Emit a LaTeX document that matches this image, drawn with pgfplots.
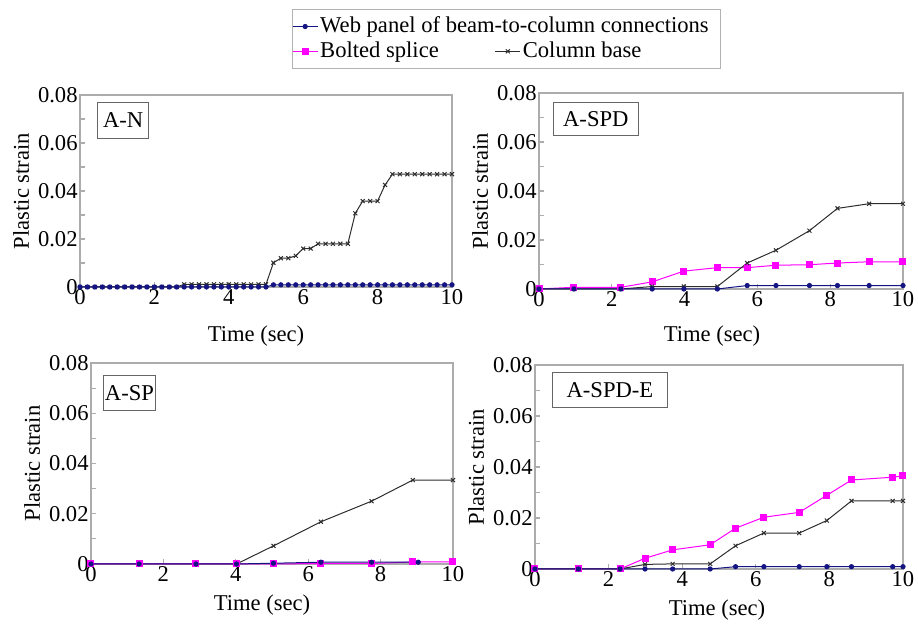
\documentclass[border=0pt]{standalone}
\usepackage{fontspec}
\setmainfont{Liberation Serif}
\usepackage{pgfplots}
\pgfplotsset{compat=1.18}
\definecolor{navyc}{RGB}{20,20,130}
\definecolor{magc}{RGB}{255,0,255}
\definecolor{colc}{RGB}{45,45,45}
\newcommand\cf{\fontsize{11.3pt}{13pt}\selectfont}
\tikzset{
 webs/.style={color=navyc, mark=*, mark size=1.05pt, line width=0.5pt},
 bolts/.style={color=magc, mark=square*, mark size=1.5pt, line width=0.5pt},
 cols/.style={color=colc, mark=x, mark size=1.4pt, line width=0.5pt},
 tag/.style={draw=black!60, line width=0.5pt, fill=white, font=\cf, anchor=north west, inner sep=0pt, align=center},
}
\pgfplotsset{
 panel/.style={scale only axis, xmin=0, xmax=10, ymin=0, ymax=0.08, clip=false,
   scaled ticks=false,
   axis line style={gray!65, line width=0.7pt},
   tick style={gray!65, line width=0.6pt}, major tick length=2.5pt, minor tick length=2.5pt,
   tick pos=left, tick align=inside,
   xtick={0,2,4,6,8,10}, xticklabels={0,2,4,6,8,10},
   ytick={0,0.02,0.04,0.06,0.08}, yticklabels={0,0.02,0.04,0.06,0.08},
   minor ytick={0.01,0.03,0.05,0.07},
   tick label style={font=\cf, black},
   yticklabel style={inner xsep=1pt},
   xticklabel style={inner ysep=1pt},
   label style={font=\cf},
   xlabel={Time (sec)}, ylabel={Plastic strain},
 },
}
\begin{document}
\begin{tikzpicture}
\useasboundingbox (0,0) rectangle (459pt,312pt);

% ---------------- A-N ----------------
\begin{axis}[panel, at={(40pt,168.5pt)}, anchor=south west, width=186pt, height=96pt,
  xlabel style={yshift=-6pt, xshift=-5pt},
  legend columns=2, legend cell align=left,
  legend style={at={(rel axis cs:0.569,1.448)}, anchor=north west, draw=gray!60, line width=0.5pt,
    font=\cf, inner xsep=0pt, inner ysep=2.8pt, nodes={inner sep=1pt}, /tikz/row sep=1pt,
    /tikz/every even column/.append style={column sep=27pt}},
  legend image code/.code={\draw[#1,mark=none] (0cm,0cm) -- (0.44cm,0cm); \draw[#1,only marks] plot coordinates {(0.22cm,0cm)};}]
\addplot[cols, forget plot] coordinates {(0,0)(0.2,0)(0.4,0)(0.6,0)(0.8,0)(1.0,0)(1.2,0)(1.4,0)(1.6,0)(1.8,0)(2.0,0)(2.2,0)(2.4,0)(2.6,0)
 (2.8,0.0011)(3.0,0.0011)(3.2,0.0011)(3.4,0.0011)(3.6,0.0011)(3.8,0.0011)(4.0,0.0011)(4.2,0.0011)(4.4,0.0011)(4.6,0.0011)(4.8,0.0011)(5.0,0.0011)
 (5.2,0.0101)(5.4,0.012)(5.6,0.012)(5.8,0.013)(6.0,0.016)(6.2,0.016)(6.4,0.018)(6.6,0.018)(6.8,0.018)(7.0,0.018)(7.2,0.018)
 (7.4,0.0307)(7.6,0.0358)(7.8,0.0358)(8.0,0.0358)(8.2,0.0425)(8.4,0.047)(8.6,0.047)(8.8,0.047)(9.0,0.047)(9.2,0.047)(9.4,0.047)(9.6,0.047)(9.8,0.047)(10.0,0.047)};
\addplot[webs, forget plot] coordinates {(0,0)(0.2,0)(0.4,0)(0.6,0)(0.8,0)(1.0,0)(1.2,0)(1.4,0)(1.6,0)(1.8,0)(2.0,0)(2.2,0)(2.4,0)(2.6,0)
 (2.8,0)(3.0,0)(3.2,0)(3.4,0)(3.6,0)(3.8,0)(4.0,0)(4.2,0)(4.4,0)(4.6,0)(4.8,0)(5.0,0)
 (5.2,0.0009)(5.4,0.0009)(5.6,0.0009)(5.8,0.0009)(6.0,0.0009)(6.2,0.0009)(6.4,0.0009)(6.6,0.0009)(6.8,0.0009)(7.0,0.0009)(7.2,0.0009)
 (7.4,0.0009)(7.6,0.0009)(7.8,0.0009)(8.0,0.0009)(8.2,0.0009)(8.4,0.0009)(8.6,0.0009)(8.8,0.0009)(9.0,0.0009)(9.2,0.0009)(9.4,0.0009)(9.6,0.0009)(9.8,0.0009)(10.0,0.0009)};
\addlegendimage{webs}\addlegendentry{\rlap{Web panel of beam-to-column connections}}
\addlegendimage{empty legend}\addlegendentry{}
\addlegendimage{bolts}\addlegendentry{Bolted splice}
\addlegendimage{cols}\addlegendentry{\makebox[98pt][l]{Column base}}
\node[tag, minimum width=25.5pt, minimum height=18pt] at (rel axis cs:0.046,0.964) {A-N};
\end{axis}

% ---------------- A-SPD ----------------
\begin{axis}[panel, at={(269.5pt,167.5pt)}, anchor=south west, width=182pt, height=98pt,
  xlabel style={yshift=-5pt, xshift=-4.5pt}]
\addplot[bolts] coordinates {(0,0)(0.96,0.0007)(2.25,0.0007)(3.11,0.0029)(3.98,0.0073)(4.9,0.0087)(5.72,0.0087)(6.51,0.0097)(7.43,0.0099)(8.2,0.0106)(9.07,0.0111)(10,0.0111)};
\addplot[cols] coordinates {(0,0)(0.96,0)(2.25,0)(3.11,0.001)(3.98,0.001)(4.9,0.001)(5.72,0.0106)(6.51,0.0158)(7.43,0.0238)(8.2,0.0329)(9.07,0.0348)(10,0.0348)};
\addplot[webs] coordinates {(0,0)(0.96,0)(2.25,0)(3.11,0)(3.98,0)(4.9,0)(5.72,0.0014)(6.51,0.0014)(7.43,0.0014)(8.2,0.0014)(9.07,0.0014)(10,0.0014)};
\node[tag, minimum width=42.5pt, minimum height=16.5pt] at (rel axis cs:0.038,0.954) {A-SPD};
\end{axis}

% ---------------- A-SP ----------------
\begin{axis}[panel, at={(45.5pt,30pt)}, anchor=south west, width=181pt, height=100.5pt,
  xlabel style={yshift=-2pt, xshift=-5pt}]
\addplot[cols] coordinates {(0,0)(1.33,0)(2.9,0)(4.02,0)(5.04,0.0072)(6.35,0.0168)(7.75,0.025)(8.89,0.0334)(10,0.0334)};
\addplot[bolts] coordinates {(0,0)(1.33,0)(2.9,0)(4.02,0)(5.04,0)(6.35,0.0002)(7.75,0.0002)(8.89,0.0008)(10,0.0008)};
\addplot[webs] coordinates {(0,0)(1.33,0)(2.9,0)(4.02,0)(5.04,0.0003)(6.35,0.0007)(7.75,0.0007)(9.04,0.0007)};
\node[tag, minimum width=26pt, minimum height=17.5pt] at (rel axis cs:0.033,0.94) {A-SP};
\end{axis}

% ---------------- A-SPD-E ----------------
\begin{axis}[panel, at={(267.5pt,27.5pt)}, anchor=south west, width=184pt, height=102pt,
  xlabel style={yshift=-2pt, xshift=-1pt}]
\addplot[bolts] coordinates {(0,0)(1.18,0)(2.31,0)(2.99,0.0042)(3.74,0.0075)(4.76,0.0095)(5.45,0.016)(6.22,0.0203)(7.18,0.0222)(7.93,0.0289)(8.6,0.0349)(9.72,0.036)(10,0.0365)};
\addplot[cols] coordinates {(0,0)(1.18,0)(2.31,0)(2.99,0.0018)(3.74,0.002)(4.76,0.002)(5.45,0.0091)(6.22,0.0141)(7.18,0.0141)(7.93,0.019)(8.6,0.0267)(9.72,0.0267)(10,0.0267)};
\addplot[webs] coordinates {(0,0)(1.18,0)(2.31,0)(2.99,0)(3.74,0)(4.76,0)(5.45,0.0009)(6.22,0.0009)(7.18,0.0009)(7.93,0.0009)(8.6,0.0009)(9.72,0.0009)(10,0.0009)};
\node[tag, minimum width=57.5pt, minimum height=17.5pt] at (rel axis cs:0.046,0.966) {A-SPD-E};
\end{axis}
\end{tikzpicture}
\end{document}
